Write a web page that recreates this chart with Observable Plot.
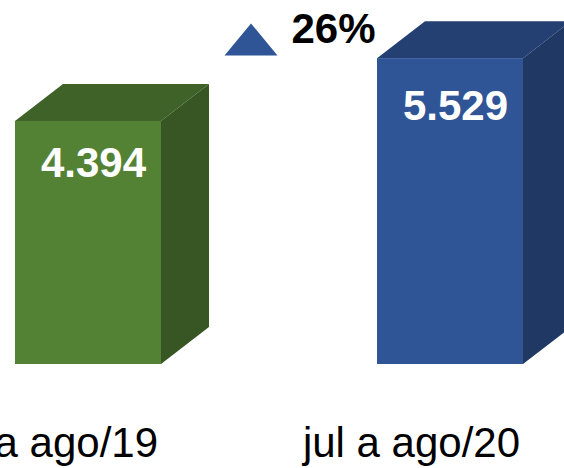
<!DOCTYPE html>
<html>
<head>
<meta charset="utf-8">
<script src="https://cdn.jsdelivr.net/npm/d3@7"></script>
<script src="https://cdn.jsdelivr.net/npm/@observablehq/plot@0.6"></script>
<style>
  html, body { margin: 0; padding: 0; background: #fff; overflow: hidden; }
  #chart svg { display: block; font-family: "Liberation Sans", Arial, sans-serif; }
</style>
</head>
<body>
<div id="chart"></div>
<script>
const categories = ["jul a ago/19", "jul a ago/20"];
const values = [4394, 5529];
const valueLabels = ["4.394", "5.529"];

const frontColors = ["#548235", "#2f5597"];
const topColors = ["#3f6229", "#243f72"];
const sideColors = ["#375623", "#1f3864"];

const data = categories.map((c, i) => ({cat: c, value: values[i], label: valueLabels[i], i}));
const pct = Math.round((values[1] / values[0] - 1) * 100) + "%";

const DX = 48, DY = 37;

function faces(index, scales, vals, dims, ctx) {
  const g = d3.create("svg:g");
  const bw = scales.x.bandwidth();
  for (const i of index) {
    const x0 = vals.x[i], x1 = x0 + bw;
    const yt = Math.min(vals.y1[i], vals.y2[i]);
    const yb = Math.max(vals.y1[i], vals.y2[i]);
    const k = data[i].i;
    g.append("polygon")
      .attr("points", [[x0, yt], [x0 + DX, yt - DY], [x1 + DX, yt - DY], [x1, yt]].map(p => p.join(",")).join(" "))
      .attr("fill", topColors[k]);
    g.append("polygon")
      .attr("points", [[x1, yt], [x1 + DX, yt - DY], [x1 + DX, yb - DY], [x1, yb]].map(p => p.join(",")).join(" "))
      .attr("fill", sideColors[k]);
  }
  return g.node();
}

const wideTriangle = {
  draw(context) {
    context.moveTo(0, -16);
    context.lineTo(26.5, 16);
    context.lineTo(-26.5, 16);
    context.closePath();
  }
};

const chart = Plot.plot({
  width: 564,
  height: 468,
  marginTop: 0,
  marginBottom: 104,
  marginLeft: 0,
  marginRight: 0,
  x: {type: "band", domain: categories, range: [15, 523], paddingInner: 0.5967, paddingOuter: 0, axis: null},
  y: {domain: [0, 6580], axis: null},
  style: {fontFamily: "Liberation Sans, Arial, sans-serif", background: "#fff"},
  marks: [
    Plot.barY(data, {x: "cat", y: "value", fill: d => frontColors[d.i], render: faces}),
    Plot.barY(data, {x: "cat", y: "value", fill: d => frontColors[d.i]}),
    ...data.map((d) => Plot.text([d], {
      x: "cat", y: "value", text: "label", fill: "#fff", fontSize: 42, fontWeight: "bold",
      lineAnchor: "bottom", dx: 5, dy: d.i ? 61 : 56
    })),
    Plot.text(data, {
      x: "cat", y: 0, text: "cat", fill: "#000", fontSize: 42,
      lineAnchor: "bottom", dx: -39, dy: 92
    }),
    Plot.dot([pct], {frameAnchor: "top-left", dx: 250.5, dy: 39, symbol: wideTriangle, r: 10, fill: "#2f5597", stroke: "none"}),
    Plot.text([pct], {frameAnchor: "top-left", dx: 291, dy: 42, text: d => d, textAnchor: "start", lineAnchor: "bottom", fontSize: 42, fontWeight: "bold", fill: "#000"})
  ]
});
chart.setAttribute("fill", "currentColor");
document.getElementById("chart").appendChild(chart);
</script>
</body>
</html>
